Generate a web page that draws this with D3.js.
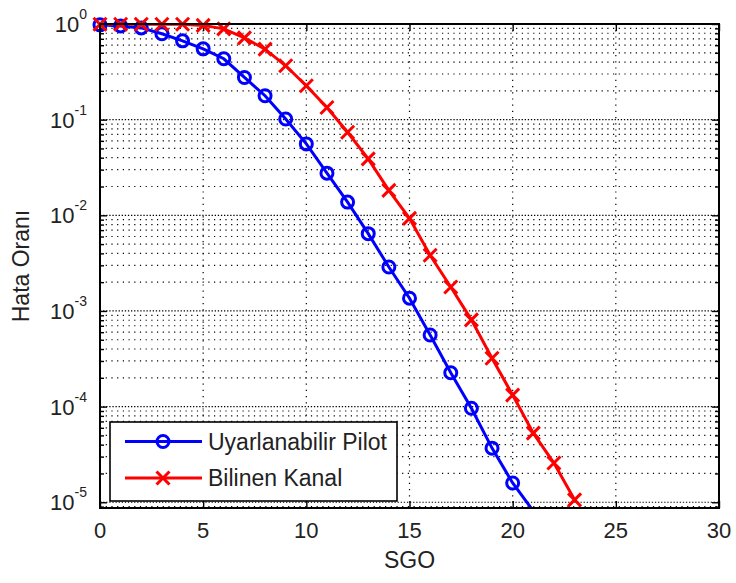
<!DOCTYPE html>
<html>
<head>
<meta charset="utf-8">
<script src="https://cdn.jsdelivr.net/npm/d3@7"></script>
<style>
html,body{margin:0;padding:0;background:#fff;}
svg{display:block;font-family:"Liberation Sans",Arial,Helvetica,sans-serif;}
</style>
</head>
<body>
<svg id="chart" width="736" height="583"></svg>
<script>
// ---- data ----
const snrPilot = [0,1,2,3,4,5,6,7,8,9,10,11,12,13,14,15,16,17,18,19,20,21];
const berPilot = [0.98,0.955,0.91,0.79,0.667,0.55,0.433,0.276,0.178,0.1017,0.0558,0.0276,0.01374,0.00643,0.00288,0.00136,5.6e-4,2.26e-4,9.6e-5,3.68e-5,1.59e-5,8.1e-6];
const snrKnown = [0,1,2,3,4,5,6,7,8,9,10,11,12,13,14,15,16,17,18,19,20,21,22,23];
const berKnown = [0.995,0.995,0.995,0.995,0.995,0.967,0.89,0.716,0.546,0.366,0.226,0.134,0.0739,0.0389,0.0182,0.0093,0.00382,0.00178,8.07e-4,3.2e-4,1.32e-4,5.28e-5,2.57e-5,1.06e-5];
const seriesNames = ["Uyarlanabilir Pilot","Bilinen Kanal"];
const seriesColors = ["#0000ff","#ff0000"];
const xTicks = [0,5,10,15,20,25,30];
const yExps = [0,-1,-2,-3,-4,-5];
const xLabel = "SGO";
const yLabel = "Hata Oranı";

// ---- layout ----
const L = 100, R = 719, T = 24, B = 508;
const svg = d3.select("#chart");
const x = d3.scaleLinear().domain([0,30]).range([L,R]);
const y = d3.scaleLog().domain([Math.pow(10,-5.06),1]).range([B,T]);

// clip
svg.append("defs").append("clipPath").attr("id","clip")
  .append("rect").attr("x",L).attr("y",T).attr("width",R-L).attr("height",B-T);

// minor y values
const minorY = [];
for (let k=-6;k<0;k++) for (let m=2;m<=9;m++){const v=m*Math.pow(10,k); if(v>=y.domain()[0] && v<1) minorY.push(v);}
const majorY = yExps.map(e=>Math.pow(10,e));

const grid = svg.append("g");
// minor horizontal grid
grid.selectAll(".mg").data(minorY).enter().append("line")
  .attr("x1",L).attr("x2",R).attr("y1",d=>y(d)).attr("y2",d=>y(d))
  .attr("stroke","#000").attr("stroke-width",1.2).attr("stroke-dasharray","1.2,4.5");
// major horizontal grid
grid.selectAll(".Mg").data(majorY.filter(v=>v<1)).enter().append("line")
  .attr("x1",L).attr("x2",R).attr("y1",d=>y(d)).attr("y2",d=>y(d))
  .attr("stroke","#000").attr("stroke-width",1.2).attr("stroke-dasharray","1.3,1.8");
// vertical grid
grid.selectAll(".vg").data(xTicks.filter(v=>v>0&&v<30)).enter().append("line")
  .attr("x1",d=>x(d)).attr("x2",d=>x(d)).attr("y1",T).attr("y2",B)
  .attr("stroke","#000").attr("stroke-width",1.2).attr("stroke-dasharray","1.2,5");

// axes (inward ticks)
const fmt = ()=>"";
svg.append("g").attr("transform",`translate(0,${B})`)
  .call(d3.axisTop(x).tickValues(xTicks).tickSize(7).tickFormat(fmt))
  .call(g=>g.select(".domain").remove());
svg.append("g").attr("transform",`translate(0,${T})`)
  .call(d3.axisBottom(x).tickValues(xTicks).tickSize(7).tickFormat(fmt))
  .call(g=>g.select(".domain").remove());
svg.append("g").attr("transform",`translate(${L},0)`)
  .call(d3.axisRight(y).tickValues(majorY).tickSize(7).tickFormat(fmt))
  .call(g=>g.select(".domain").remove());
svg.append("g").attr("transform",`translate(${L},0)`)
  .call(d3.axisRight(y).tickValues(minorY).tickSize(4).tickFormat(fmt))
  .call(g=>g.select(".domain").remove());
svg.append("g").attr("transform",`translate(${R},0)`)
  .call(d3.axisLeft(y).tickValues(majorY).tickSize(7).tickFormat(fmt))
  .call(g=>g.select(".domain").remove());
svg.append("g").attr("transform",`translate(${R},0)`)
  .call(d3.axisLeft(y).tickValues(minorY).tickSize(4).tickFormat(fmt))
  .call(g=>g.select(".domain").remove());
svg.selectAll(".tick line").attr("stroke","#000").attr("stroke-width",1.4);

// tick labels
svg.append("g").selectAll("text").data(xTicks).enter().append("text")
  .attr("x",d=>x(d)).attr("y",B+30).attr("text-anchor","middle")
  .attr("font-size",22).attr("fill","#222").text(d=>d);
const yl = svg.append("g").selectAll("text").data(yExps).enter().append("text")
  .attr("x",87).attr("y",d=>y(Math.pow(10,d))+8).attr("text-anchor","end")
  .attr("font-size",22).attr("fill","#222");
yl.append("tspan").text("10");
yl.append("tspan").attr("dy",-13).attr("font-size",14).text(d=>d);

// axis titles
svg.append("text").attr("x",(L+R)/2).attr("y",568).attr("text-anchor","middle")
  .attr("font-size",23).attr("fill","#222").text(xLabel);
svg.append("text").attr("transform",`translate(29,${(T+B)/2}) rotate(-90)`)
  .attr("text-anchor","middle").attr("font-size",23).attr("fill","#222").text(yLabel);

// series
const series = [
  {xs:snrPilot, ys:berPilot, color:seriesColors[0], marker:"o"},
  {xs:snrKnown, ys:berKnown, color:seriesColors[1], marker:"x"}
];
const line = d3.line().x(d=>x(d[0])).y(d=>y(d[1]));
const plot = svg.append("g").attr("clip-path","url(#clip)");
function drawMarker(g, cx, cy, type, color){
  if (type==="o"){
    g.append("circle").attr("cx",cx).attr("cy",cy).attr("r",6)
      .attr("fill","none").attr("stroke",color).attr("stroke-width",3);
  } else {
    const s=6.5;
    g.append("path").attr("d",`M${cx-s},${cy-s}L${cx+s},${cy+s}M${cx-s},${cy+s}L${cx+s},${cy-s}`)
      .attr("stroke",color).attr("stroke-width",3).attr("fill","none");
  }
}
const markerLayer = svg.append("g");
series.forEach(s=>{
  const pts = s.xs.map((v,i)=>[v,s.ys[i]]);
  plot.append("path").datum(pts).attr("d",line).attr("fill","none")
    .attr("stroke",s.color).attr("stroke-width",3);
  pts.forEach(p=>{
    const px=x(p[0]), py=y(p[1]);
    if (py<=B+2) drawMarker(markerLayer, px, py, s.marker, s.color);
  });
});

// box
svg.append("rect").attr("x",L).attr("y",T).attr("width",R-L).attr("height",B-T)
  .attr("fill","none").attr("stroke","#000").attr("stroke-width",2);

// legend
const lg = svg.append("g");
lg.append("rect").attr("x",110).attr("y",422).attr("width",287).attr("height",79)
  .attr("fill","#fff").attr("stroke","#000").attr("stroke-width",1.6);
seriesNames.forEach((n,i)=>{
  const yy = i===0 ? 441.5 : 478;
  lg.append("line").attr("x1",125).attr("x2",202).attr("y1",yy).attr("y2",yy)
    .attr("stroke",seriesColors[i]).attr("stroke-width",3);
  drawMarker(lg,163,yy,series[i].marker,seriesColors[i]);
  lg.append("text").attr("x",208).attr("y",yy+8).attr("font-size",23).attr("fill","#222").text(n);
});
</script>
</body>
</html>
